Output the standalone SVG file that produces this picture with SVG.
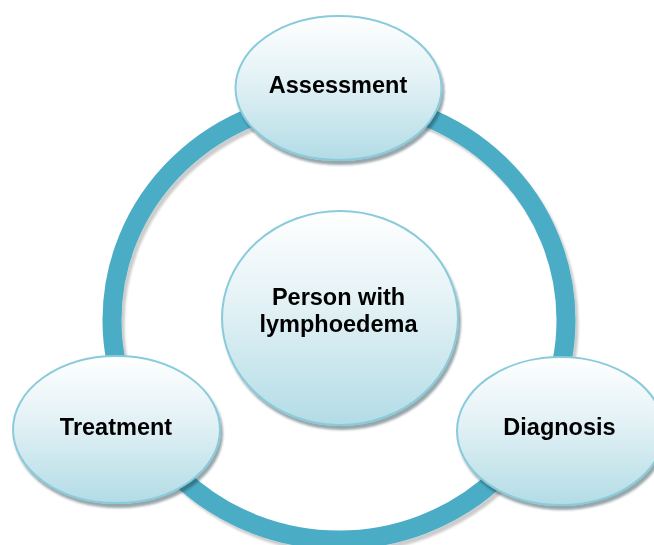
<svg xmlns="http://www.w3.org/2000/svg" width="654" height="545" viewBox="0 0 654 545">
  <defs>
    <linearGradient id="nodeFill" x1="0" y1="0" x2="0" y2="1">
      <stop offset="0" stop-color="#ffffff"/>
      <stop offset="0.45" stop-color="#e2f1f5"/>
      <stop offset="1" stop-color="#b3dce6"/>
    </linearGradient>
    <filter id="ringShadow" x="-10%" y="-10%" width="120%" height="120%">
      <feGaussianBlur in="SourceAlpha" stdDeviation="0.8"/>
      <feOffset dx="3" dy="4" result="off"/>
      <feFlood flood-color="#000000" flood-opacity="0.2"/>
      <feComposite in2="off" operator="in" result="shadow"/>
      <feMerge>
        <feMergeNode in="shadow"/>
        <feMergeNode in="SourceGraphic"/>
      </feMerge>
    </filter>
    <filter id="nodeShadow" x="-10%" y="-10%" width="120%" height="125%">
      <feGaussianBlur in="SourceAlpha" stdDeviation="0.8"/>
      <feOffset dx="2" dy="3.5" result="off"/>
      <feFlood flood-color="#1a3a44" flood-opacity="0.45"/>
      <feComposite in2="off" operator="in" result="shadow"/>
      <feMerge>
        <feMergeNode in="shadow"/>
        <feMergeNode in="SourceGraphic"/>
      </feMerge>
    </filter>
  </defs>
  <style>
    .ring { fill: none; stroke: #4bacc6; stroke-width: 19; }
    .node ellipse { fill: url(#nodeFill); stroke: #8acbdb; stroke-width: 2; }
    .label { font-family: "Liberation Sans", Arial, sans-serif; font-weight: bold; font-size: 23.5px; fill: #000000; text-anchor: middle; }
  </style>

  <rect width="654" height="545" fill="#ffffff"/>

  <!-- cycle ring connecting the three stages -->
  <g id="connectors">
    <ellipse class="ring" cx="339" cy="320" rx="227" ry="220" filter="url(#ringShadow)"/>
  </g>

  <g id="node-center" class="node" filter="url(#nodeShadow)">
    <ellipse cx="340" cy="318" rx="118" ry="107"/>
    <text class="label" x="338.5" y="305">Person with</text>
    <text class="label" x="338.5" y="332">lymphoedema</text>
  </g>

  <g id="node-assessment" class="node" filter="url(#nodeShadow)">
    <ellipse cx="338.5" cy="88" rx="103" ry="72"/>
    <text class="label" x="338" y="93">Assessment</text>
  </g>

  <g id="node-treatment" class="node" filter="url(#nodeShadow)">
    <ellipse cx="116.5" cy="429.5" rx="103.5" ry="73.5"/>
    <text class="label" x="116" y="435">Treatment</text>
  </g>

  <g id="node-diagnosis" class="node" filter="url(#nodeShadow)">
    <ellipse cx="560.5" cy="431" rx="103.5" ry="74"/>
    <text class="label" x="559.5" y="435">Diagnosis</text>
  </g>
</svg>
